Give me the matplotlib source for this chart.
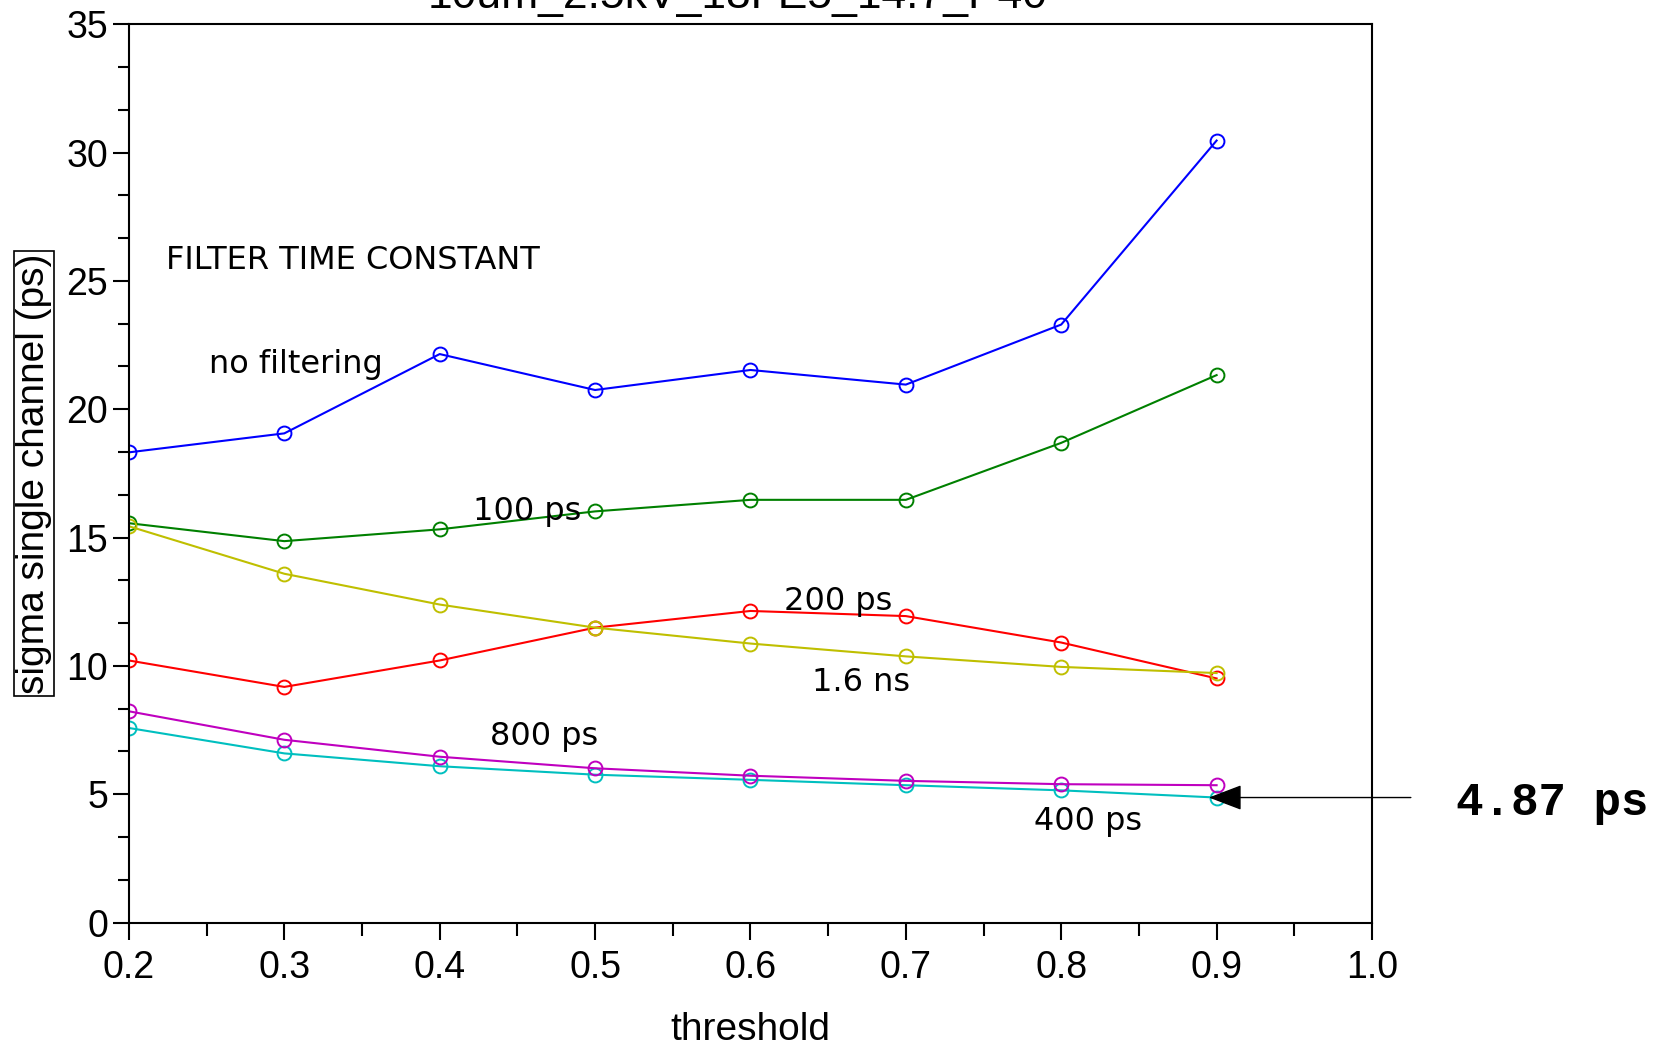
import matplotlib
matplotlib.use("Agg")
import matplotlib.pyplot as plt
from matplotlib.ticker import MultipleLocator, FormatStrFormatter

# threshold settings (fraction of pulse amplitude)
threshold = [0.2, 0.3, 0.4, 0.5, 0.6, 0.7, 0.8, 0.9]

# single-channel time resolution (ps) for each filter time constant
no_filtering = [18.32, 19.06, 22.15, 20.75, 21.53, 20.96, 23.30, 30.47]
filt_100ps = [15.56, 14.86, 15.32, 16.02, 16.47, 16.47, 18.69, 21.33]
filt_200ps = [10.21, 9.18, 10.21, 11.49, 12.14, 11.94, 10.91, 9.51]
filt_400ps = [7.58, 6.59, 6.09, 5.76, 5.56, 5.35, 5.15, 4.87]
filt_800ps = [8.23, 7.12, 6.46, 6.01, 5.72, 5.52, 5.39, 5.35]
filt_1p6ns = [15.44, 13.59, 12.39, 11.49, 10.87, 10.37, 9.96, 9.72]

series = [
    (no_filtering, "b"),
    (filt_100ps, "g"),
    (filt_200ps, "r"),
    (filt_400ps, "c"),
    (filt_800ps, "m"),
    (filt_1p6ns, "y"),
]

best_value = filt_400ps[-1]

axis_font = ["Liberation Sans", "DejaVu Sans"]

fig = plt.figure(figsize=(16.57, 10.47), dpi=100)
ax = fig.add_axes([0.0778, 0.1189, 0.7502, 0.8579])

for values, color in series:
    ax.plot(threshold, values, color=color, lw=1.5, marker="o", ms=10,
            mfc="none", mec=color, mew=1.4)

ax.set_xlim(0.2, 1.0)
ax.set_ylim(0, 35)
ax.xaxis.set_major_locator(MultipleLocator(0.1))
ax.xaxis.set_minor_locator(MultipleLocator(0.05))
ax.yaxis.set_major_locator(MultipleLocator(5))
ax.yaxis.set_minor_locator(MultipleLocator(5 / 3))
ax.xaxis.set_major_formatter(FormatStrFormatter("%.1f"))
ax.tick_params(which="major", direction="out", length=11.5, width=1.5,
               pad=3.5, labelsize=27)
ax.tick_params(which="minor", direction="out", length=8, width=1.5)
ax.tick_params(axis="x", which="major", length=12.5, pad=7)
ax.tick_params(axis="x", which="minor", length=9)
for lbl in ax.get_xticklabels() + ax.get_yticklabels():
    lbl.set_family(axis_font)
for sp in ax.spines.values():
    sp.set_linewidth(1.5)

ax.set_xlabel("threshold", family=axis_font, fontsize=28, labelpad=19)
ax.set_ylabel("sigma single channel (ps)", family=axis_font, fontsize=28,
              labelpad=10,
              bbox=dict(boxstyle="square,pad=0.05", fc="none", ec="black", lw=1.2))

fig.text(0.445, 0.9924, "10um_2.5kV_18FE5_14.7_P40", family=axis_font,
         fontsize=32, ha="center", va="baseline")

label_kw = dict(family="DejaVu Sans", fontsize=23, va="center", ha="left")
ax.text(0.2238, 25.78, "FILTER TIME CONSTANT", **label_kw)
ax.text(0.2515, 21.73, "no filtering", **label_kw)
ax.text(0.4214, 16.0, "100 ps", **label_kw)
ax.text(0.6216, 12.49, "200 ps", **label_kw)
ax.text(0.6396, 9.37, "1.6 ns", **label_kw)
ax.text(0.4325, 7.23, "800 ps", **label_kw)
ax.text(0.7825, 3.92, "400 ps", **label_kw)

ax.annotate("", xy=(0.895, best_value), xytext=(1.025, best_value),
            annotation_clip=False,
            arrowprops=dict(arrowstyle="-|>,head_length=2.1,head_width=0.8",
                            color="black", lw=1.0, shrinkA=0, shrinkB=0))
fig.text(0.8787, 0.233, f"{best_value:.2f} ps", family="Liberation Mono",
         fontweight="bold", fontsize=33, va="center", ha="left")

fig.savefig("out.png", dpi=100)
